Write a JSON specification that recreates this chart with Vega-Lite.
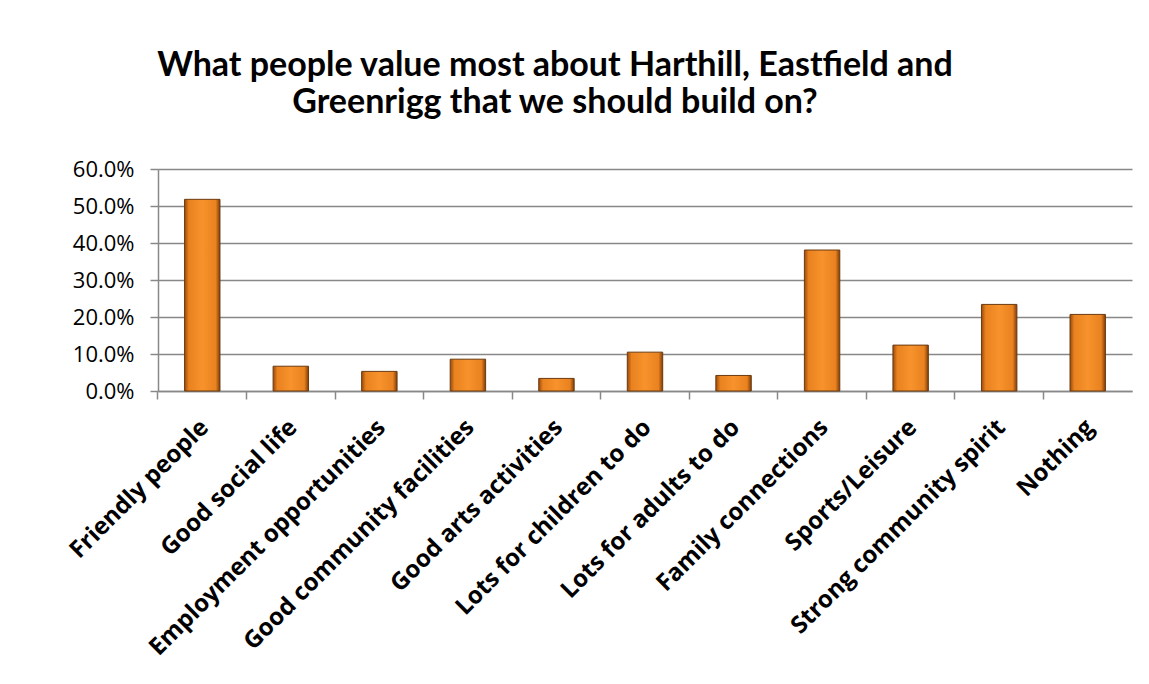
{
  "$schema": "https://vega.github.io/schema/vega-lite/v6.json",
  "autosize": "none",
  "width": 974,
  "height": 222,
  "padding": {"left": 158, "top": 169, "right": 17, "bottom": 293},
  "background": "white",
  "title": {
    "text": ["What people value most about Harthill, Eastfield and", "Greenrigg that we should build on?"],
    "font": "Lato",
    "fontSize": 34,
    "fontWeight": "bold",
    "color": "#000000",
    "lineHeight": 37,
    "anchor": "middle",
    "dx": -90,
    "offset": 38
  },
  "data": {
    "values": [
      {"category": "Friendly people", "value": 0.518},
      {"category": "Good social life", "value": 0.067},
      {"category": "Employment opportunities", "value": 0.053},
      {"category": "Good community facilities", "value": 0.086},
      {"category": "Good arts activities", "value": 0.034},
      {"category": "Lots for children to do", "value": 0.105},
      {"category": "Lots for adults to do", "value": 0.042},
      {"category": "Family connections", "value": 0.381},
      {"category": "Sports/Leisure", "value": 0.124},
      {"category": "Strong community spirit", "value": 0.234},
      {"category": "Nothing", "value": 0.207}
    ]
  },
  "mark": {
    "type": "bar",
    "stroke": "#6b3a10",
    "strokeWidth": 1,
    "color": {
      "gradient": "linear",
      "x1": 0, "y1": 0, "x2": 1, "y2": 0,
      "stops": [
        {"offset": 0, "color": "#9a4a0c"},
        {"offset": 0.12, "color": "#e9821f"},
        {"offset": 0.5, "color": "#f7922c"},
        {"offset": 0.88, "color": "#e9821f"},
        {"offset": 1, "color": "#7f3d08"}
      ]
    }
  },
  "encoding": {
    "x": {
      "field": "category",
      "type": "nominal",
      "sort": null,
      "scale": {"paddingInner": 0.6, "paddingOuter": 0.3},
      "axis": {
        "title": null,
        "labelAngle": -45,
        "labelFont": "Open Sans",
        "labelFontSize": 24,
        "labelFontWeight": "bold",
        "labelColor": "#000000",
        "labelPadding": 16,
        "labelOffset": -6,
        "labelLimit": 400,
        "domainColor": "#888888",
        "domainWidth": 1.5,
        "tickColor": "#888888",
        "tickWidth": 1.5,
        "tickSize": 8,
        "bandPosition": -0.75,
        "grid": false
      }
    },
    "y": {
      "field": "value",
      "type": "quantitative",
      "scale": {"domain": [0, 0.6]},
      "axis": {
        "title": null,
        "format": ".1%",
        "values": [0, 0.1, 0.2, 0.3, 0.4, 0.5, 0.6],
        "labelFont": "Open Sans",
        "labelFontSize": 22,
        "labelColor": "#000000",
        "labelPadding": 16,
        "domainColor": "#888888",
        "domainWidth": 1.5,
        "tickColor": "#888888",
        "tickWidth": 1.5,
        "tickSize": 8,
        "grid": true,
        "gridColor": "#888888",
        "gridWidth": 1.5
      }
    }
  },
  "config": {"view": {"stroke": null}}
}
